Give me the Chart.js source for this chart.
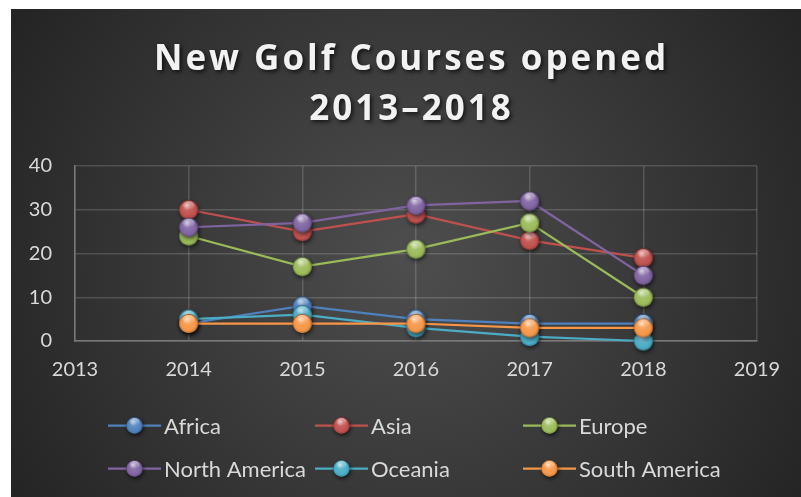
<!DOCTYPE html>
<html><head><meta charset="utf-8">
<script src="https://cdn.jsdelivr.net/npm/chart.js@4.4.0/dist/chart.umd.min.js"></script>
<style>
html,body{margin:0;padding:0;background:#fff;overflow:hidden;width:801px;height:497px}
#wrap{position:absolute;left:11px;top:9px;width:798px;height:488px}
</style></head><body>
<div id="wrap"><canvas id="c" width="798" height="488"></canvas></div>
<script>
// ---- data ----
const years = [2014, 2015, 2016, 2017, 2018];
const africa = [4, 8, 5, 4, 4];
const asia = [30, 25, 29, 23, 19];
const europe = [24, 17, 21, 27, 10];
const northAmerica = [26, 27, 31, 32, 15];
const oceania = [5, 6, 3, 1, 0];
const southAmerica = [4, 4, 4, 3, 3];
const seriesNames = ['Africa', 'Asia', 'Europe', 'North America', 'Oceania', 'South America'];
const seriesValues = [africa, asia, europe, northAmerica, oceania, southAmerica];
const xTickValues = [2013, 2014, 2015, 2016, 2017, 2018, 2019];
const yTickValues = [0, 10, 20, 30, 40];
const titleLines = ['New Golf Courses opened', '2013\u20132018'];

// ---- styles ----
const colors = ['#4F81BD', '#C0504D', '#9BBB59', '#8064A2', '#4BACC6', '#F79646'];
const FONT = 'Lato';
const TITLE_FONT = '"Open Sans"';

function hexRgb(h){h=h.replace('#','');return [0,2,4].map(i=>parseInt(h.substr(i,2),16));}
function mix(c, w, t){const a=hexRgb(c), b=hexRgb(w);return 'rgb('+a.map((v,i)=>Math.round(v+(b[i]-v)*t)).join(',')+')';}

function drawSphere(g, cx, cy, r, color){
  g.save();
  g.shadowColor='rgba(0,0,0,0.65)'; g.shadowBlur=4; g.shadowOffsetY=2; g.shadowOffsetX=1;
  g.beginPath(); g.arc(cx,cy,r,0,Math.PI*2); g.fillStyle=mix(color,'#000000',0.3); g.fill();
  g.restore();
  const rg=g.createRadialGradient(cx-r*0.2, cy-r*0.5, r*0.05, cx, cy+r*0.1, r*1.05);
  rg.addColorStop(0, mix(color,'#ffffff',0.55));
  rg.addColorStop(0.35, mix(color,'#ffffff',0.1));
  rg.addColorStop(0.75, color);
  rg.addColorStop(1, mix(color,'#000000',0.35));
  g.beginPath(); g.arc(cx,cy,r,0,Math.PI*2); g.fillStyle=rg; g.fill();
  const hg=g.createLinearGradient(0, cy-r, 0, cy);
  hg.addColorStop(0,'rgba(255,255,255,0.55)'); hg.addColorStop(1,'rgba(255,255,255,0)');
  g.beginPath(); g.ellipse(cx, cy-r*0.45, r*0.62, r*0.45, 0, 0, Math.PI*2); g.fillStyle=hg; g.fill();
}
function sphereImage(color, r){
  const size=Math.ceil(2*r+10);
  const c=document.createElement('canvas'); c.width=size; c.height=size;
  drawSphere(c.getContext('2d'), size/2, size/2, r, color);
  return c;
}

const datasets = seriesNames.map((name, i) => ({
  label: name,
  data: years.map((yr, j) => ({x: yr, y: seriesValues[i][j]})),
  borderColor: colors[i],
  backgroundColor: colors[i],
  borderWidth: 2.25,
  pointStyle: sphereImage(colors[i], 9.5),
  pointRadius: 9,
  pointHoverRadius: 9,
  tension: 0,
  clip: false,
  order: seriesNames.length - i
}));

const bgPlugin = {
  id: 'bg',
  beforeDraw(chart){
    const {ctx, width, height} = chart;
    ctx.save();
    const g = ctx.createRadialGradient(399, 250, 0, 399, 250, 520);
    g.addColorStop(0, '#4e4e4e');
    g.addColorStop(1, '#1f1f1f');
    ctx.fillStyle = g; ctx.fillRect(0, 0, width, height);
    ctx.restore();
  }
};

const textPlugin = {
  id: 'texts',
  afterDraw(chart){
    const ctx = chart.ctx;
    // title
    ctx.save();
    ctx.font = 'bold 35px ' + TITLE_FONT;
    ctx.fillStyle = '#f2f2f2';
    ctx.textAlign = 'center';
    ctx.textBaseline = 'alphabetic';
    const w0 = ctx.measureText(titleLines[0]).width;
    const sp = Math.max(0, (512 - w0) / (titleLines[0].length - 1));
    ctx.letterSpacing = sp.toFixed(2) + 'px';
    ctx.shadowColor = 'rgba(0,0,0,0.7)'; ctx.shadowBlur = 4; ctx.shadowOffsetX = 2; ctx.shadowOffsetY = 2;
    const baselines = [60.5, 111];
    titleLines.forEach((t, i) => ctx.fillText(t, 399 + sp/2, baselines[i]));
    ctx.restore();
    // legend
    const cols = [97, 304, 512];
    const rows = [416.5, 459.5];
    ctx.save();
    ctx.font = '22px ' + FONT;
    ctx.textBaseline = 'middle';
    ctx.textAlign = 'left';
    seriesNames.forEach((name, i) => {
      const x = cols[i % 3], y = rows[Math.floor(i / 3)];
      ctx.strokeStyle = colors[i]; ctx.lineWidth = 2.25;
      ctx.beginPath(); ctx.moveTo(x, y); ctx.lineTo(x + 53, y); ctx.stroke();
      drawSphere(ctx, x + 26.5, y, 8.2, colors[i]);
      ctx.fillStyle = '#d9d9d9';
      ctx.fillText(name, x + 56, y + 1);
    });
    ctx.restore();
  }
};

new Chart(document.getElementById('c'), {
  type: 'line',
  data: { datasets },
  plugins: [bgPlugin, textPlugin],
  options: {
    responsive: false,
    animation: false,
    events: [],
    layout: { padding: { left: 0, right: 52, top: 157, bottom: 116 } },
    plugins: { legend: { display: false }, title: { display: false }, tooltip: { enabled: false } },
    scales: {
      x: {
        type: 'linear', min: 2013, max: 2019,
        afterBuildTicks: s => { s.ticks = xTickValues.map(v => ({value: v})); },
        afterFit: s => { s.height = 40; },
        ticks: { color: '#d9d9d9', font: { family: FONT, size: 20 }, padding: 17, callback: v => String(v), maxRotation: 0, autoSkip: false },
        grid: { color: 'rgba(255,255,255,0.16)', lineWidth: 1.5, drawTicks: false },
        border: { color: '#7a7a7a', width: 1.5 }
      },
      y: {
        type: 'linear', min: 0, max: 40,
        afterBuildTicks: s => { s.ticks = yTickValues.map(v => ({value: v})); },
        afterFit: s => { s.width = 64; },
        ticks: { color: '#d9d9d9', font: { family: FONT, size: 20 }, padding: 23 },
        grid: { color: 'rgba(255,255,255,0.16)', lineWidth: 1.5, drawTicks: false },
        border: { color: '#7a7a7a', width: 1.5 }
      }
    }
  }
});
</script>
</body></html>
